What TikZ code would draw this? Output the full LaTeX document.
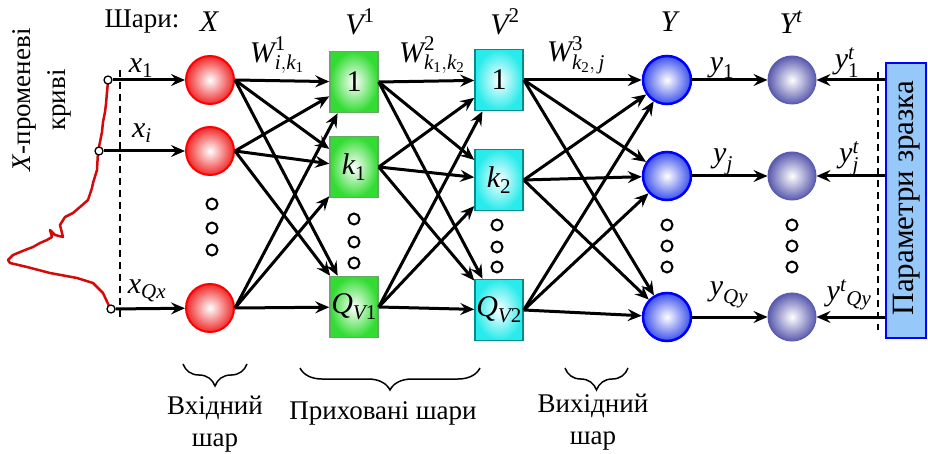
\documentclass[tikz,border=0pt]{standalone}
\usepackage{fontspec}
\usepackage{amsmath}
\setmainfont{Liberation Serif}
\usetikzlibrary{arrows.meta,decorations.pathreplacing}
\newcommand{\vi}[1]{\text{\itshape #1}}
\newcommand{\vu}[1]{\text{\upshape #1}}
\definecolor{redE}{RGB}{240,40,40}
\definecolor{grnE}{RGB}{50,220,50}
\definecolor{grnB}{RGB}{100,170,100}
\definecolor{cyE}{RGB}{40,235,235}
\definecolor{cyB}{RGB}{0,140,140}
\definecolor{bluE}{RGB}{60,80,235}
\definecolor{slE}{RGB}{90,90,175}
\definecolor{boxF}{RGB}{150,200,250}
\definecolor{curveR}{RGB}{210,10,10}
\begin{document}
\begin{tikzpicture}[x=1pt,y=-1pt,
  font=\fontsize{27}{31}\selectfont,
  lab/.style={font=\fontsize{30}{34}\selectfont, inner sep=0pt},
  arr/.style={line width=3pt, -{Stealth[length=14pt,width=12pt,inset=5pt]}},
  inp/.style={circle, minimum size=48pt, inner sep=0pt, draw=red, line width=2pt, inner color=white, outer color=redE},
  outn/.style={circle, minimum size=48pt, inner sep=0pt, draw=blue, line width=2.5pt, inner color=white, outer color=bluE},
  tgt/.style={circle, minimum size=48pt, inner sep=0pt, draw=slE, line width=1pt, inner color=white, outer color=slE},
  hidA/.style={rectangle, minimum width=48pt, minimum height=61pt, inner sep=0pt, draw=grnB, line width=1.5pt, inner color=white, outer color=grnE, font=\fontsize{30}{34}\selectfont},
  hidB/.style={rectangle, minimum width=48pt, minimum height=61pt, inner sep=0pt, draw=cyB, line width=1.5pt, inner color=white, outer color=cyE, font=\fontsize{30}{34}\selectfont},
  dotc/.style={circle, draw=black, line width=2pt, fill=white, minimum size=11pt, inner sep=0pt},
  endc/.style={circle, draw=black, line width=1.3pt, fill=white, minimum size=8pt, inner sep=0pt},
  brc/.style={line width=1.5pt, decorate, decoration={brace, mirror, amplitude=22pt, aspect=0.5}}
]
\path[use as bounding box] (0,0) rectangle (928,454);

% input-layer nodes
\node[inp] (R1) at (210,80) {};
\node[inp] (R2) at (210,151) {};
\node[inp] (R3) at (210,308) {};
% hidden layer 1
\node[hidA] (G1) at (354,82) {1};
\node[hidA] (G2) at (354,167) {$\vi{k}_{\vu{1}}$};
\node[hidA] (G3) at (354,307) {$\vi{Q}_{\vi{V}\vu{1}}$};
% hidden layer 2
\node[hidB] (C1) at (499,80) {1};
\node[hidB] (C2) at (499,180) {$\vi{k}_{\vu{2}}$};
\node[hidB] (C3) at (499,310) {$\vi{Q}_{\vi{V}\vu{2}}$};
% output layer
\node[outn] (B1) at (667,80) {};
\node[outn] (B2) at (667,176) {};
\node[outn] (B3) at (667,317) {};
% target layer
\node[tgt] (P1) at (792,80) {};
\node[tgt] (P2) at (792,176) {};
\node[tgt] (P3) at (792,317) {};

% parameter box
\node[draw=blue, line width=1.5pt, fill=boxF, minimum width=40pt, minimum height=275pt, inner sep=0pt] (PB) at (906,200.5) {};
\node[rotate=90, font=\fontsize{31}{35}\selectfont] (PBt) at (907,198) {Параметри зразка};

% dots
\foreach \x/\a/\b/\c in {212/204/228/250, 354/219/242/263, 497/225/247/267, 667/225/246/267, 792/225/246/267}{
  \node[dotc] at (\x,\a) {};
  \node[dotc] at (\x,\b) {};
  \node[dotc] at (\x,\c) {};
}

% red X-ray curve
\draw[curveR, line width=2.5pt, line join=round]
 (108,82) -- (107,92) -- (106,104) -- (105,112) -- (103,122) -- (102,132) -- (100,142) -- (98,152)
 -- (97,170) -- (93,183) -- (92,188) -- (88,200) -- (80,207) -- (73,213) -- (65,217) -- (60,225)
 -- (63,237) -- (55,235) -- (50,230) -- (52,237) -- (47,240) -- (40,243) -- (33,247) -- (25,250)
 -- (13,255) -- (8,260) -- (10,263) -- (27,267) -- (50,273) -- (77,278) -- (93,283) -- (103,293) -- (110,308);
\node[endc] (E1) at (108,80) {};
\node[endc] (E2) at (99,151) {};
\node[endc] (E3) at (111,309) {};
\coordinate (D1) at (120,70);
\coordinate (D2) at (120,320);
\draw[line width=2.3pt, dash pattern=on 7pt off 5pt] (D1) -- (D2);
\draw[arr] (E1) -- (R1);
\draw[arr] (E2) -- (R2);
\draw[arr] (E3) -- (R3);

% full connections
\foreach \i in {1,2,3}{
  \foreach \j in {1,2,3}{
    \draw[arr] (R\i.east) -- (G\j);
    \draw[arr] (G\i.east) -- (C\j);
    \draw[arr] (C\i.east) -- (B\j);
  }
}
\foreach \i in {1,2,3}{
  \draw[arr] (B\i) -- (P\i);
  \draw[arr] (P\i -| PB.west) -- (P\i);
}
\coordinate (D3) at (878,72);
\coordinate (D4) at (878,330);
\draw[line width=2.3pt, dash pattern=on 7pt off 5pt] (D3) -- (D4);

% layer titles
\node (ts) at (142,22) {Шари:};
\node[lab] (tX) at (209,22) {\itshape X};
\node[lab] (tV1) at (360,22) {$\vi{V}^{\vu{1}}$};
\node[lab] (tV2) at (505,22) {$\vi{V}^{\vu{2}}$};
\node[lab] (tY) at (669,22) {\itshape Y};
\node[lab] (tYt) at (791,22) {$\vi{Y}^{\vi{t}}$};

% connection labels
\node[lab] (lx1) at (141,68) {$\vi{x}_{\vu{1}}$};
\node[lab] (lxi) at (142,133) {$\vi{x}_{\vi{i}}$};
\node[lab] (lxq) at (147,291) {$\vi{x}_{\vi{Qx}}$};
\node[lab] (lw1) at (277,55) {$\vi{W}^{\vu{1}}_{\vi{i},\vi{k}_{\vu{1}}}$};
\node[lab] (lw2) at (432,55) {$\vi{W}^{\vu{2}}_{\vi{k}_{\vu{1}},\vi{k}_{\vu{2}}}$};
\node[lab] (lw3) at (576,55) {$\vi{W}^{\vu{3}}_{\vi{k}_{\vu{2}},\,\vi{j}}$};
\node[lab] (ly1) at (722,68) {$\vi{y}_{\vu{1}}$};
\node[lab] (lyj) at (723,162) {$\vi{y}_{\vi{j}}$};
\node[lab] (lyq) at (729,295) {$\vi{y}_{\vi{Qy}}$};
\node[lab] (lt1) at (847,63) {$\vi{y}^{\vi{t}}_{\vu{1}}$};
\node[lab] (ltj) at (849,159) {$\vi{y}^{\vi{t}}_{\vi{j}}$};
\node[lab] (ltq) at (849,295) {$\vi{y}^{\vi{t}}{}_{\vi{Qy}}$};

% left rotated title
\node[rotate=90, align=center, font=\fontsize{27}{35}\selectfont] (lt) at (42,100) {\textit{X}-променеві\\криві};

% braces
\coordinate (b1a) at (183,364); \coordinate (b1b) at (247,364);
\coordinate (b2a) at (300,368); \coordinate (b2b) at (480,368);
\coordinate (b3a) at (565,368); \coordinate (b3b) at (628,368);
\draw[brc] (b1a) -- (b1b);
\draw[brc] (b2a) -- (b2b);
\draw[brc] (b3a) -- (b3b);
\node[align=center, font=\fontsize{27}{32}\selectfont] (bt1) at (215,424) {Вхідний\\шар};
\node (bt2) at (383,413) {Приховані шари};
\node[align=center, font=\fontsize{27}{32}\selectfont] (bt3) at (593,422) {Вихідний\\шар};
\end{tikzpicture}
\end{document}
